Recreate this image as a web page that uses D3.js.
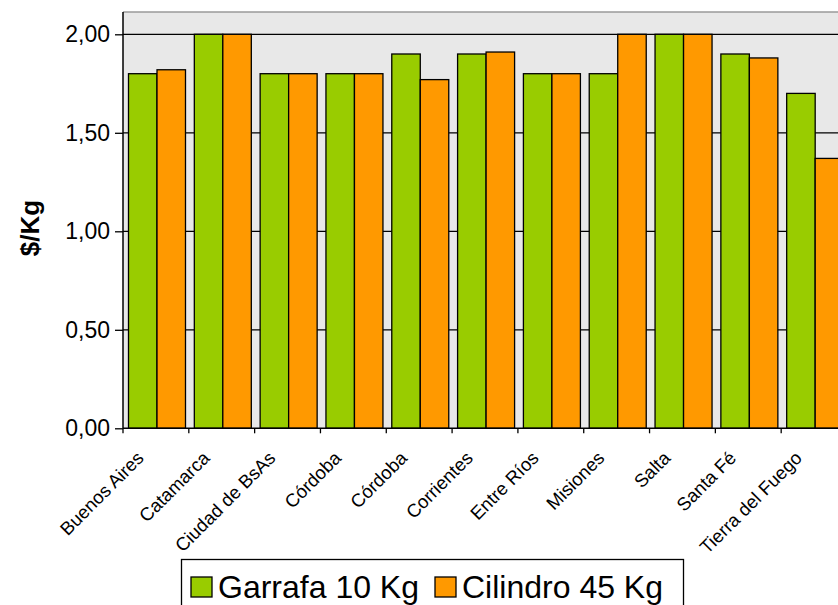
<!DOCTYPE html>
<html>
<head>
<meta charset="utf-8">
<script src="https://cdn.jsdelivr.net/npm/d3@7/dist/d3.min.js"></script>
<style>
  body { margin: 0; background: #fff; }
  text { font-family: "Liberation Sans", Arial, sans-serif; fill: #000; }
</style>
</head>
<body>
<div id="chart"></div>
<script>
// categories (provinces) and series values, $/Kg
var provinces = ["Buenos Aires", "Catamarca", "Ciudad de BsAs", "Córdoba", "Córdoba",
                 "Corrientes", "Entre Ríos", "Misiones", "Salta", "Santa Fé", "Tierra del Fuego"];
var garrafa10 = [1.80, 2.00, 1.80, 1.80, 1.90, 1.90, 1.80, 1.80, 2.00, 1.90, 1.70];
var cilindro45 = [1.82, 2.00, 1.80, 1.80, 1.77, 1.91, 1.80, 2.00, 2.00, 1.88, 1.37];
var seriesNames = ["Garrafa 10 Kg", "Cilindro 45 Kg"];
var seriesColors = ["#99cc00", "#ff9900"];
var yTicks = [0, 0.5, 1, 1.5, 2];

function createBarChart() {
    var width = 838, height = 605;
    var plot = {left: 123, top: 12, right: 847, bottom: 428};

    var svg = d3.select("#chart").append("svg")
        .attr("width", width)
        .attr("height", height);

    // scales
    var x = d3.scaleBand()
        .domain(d3.range(provinces.length))
        .range([plot.left, plot.right]);
    var xInner = d3.scaleBand()
        .domain([0, 1])
        .range([5.5, 5.5 + 57]);
    var y = d3.scaleLinear().domain([0, 2]).range([428.3, 34.3]);

    // plot area background
    svg.append("rect")
        .attr("x", plot.left).attr("y", plot.top)
        .attr("width", plot.right - plot.left)
        .attr("height", plot.bottom - plot.top)
        .style("fill", "#e8e8e8");
    svg.append("line")
        .attr("x1", plot.left).attr("x2", plot.right)
        .attr("y1", plot.top).attr("y2", plot.top)
        .style("stroke", "#9a9a9a").style("stroke-width", 1.5);

    // y axis with gridlines
    var yAxis = d3.axisLeft(y)
        .tickValues(yTicks)
        .tickSize(8)
        .tickPadding(5)
        .tickFormat(function(d) { return d3.format(".2f")(d).replace(".", ","); });
    var gy = svg.append("g")
        .attr("transform", "translate(" + plot.left + ",0)")
        .attr("font-family", null)
        .call(yAxis);
    gy.select(".domain").remove();
    gy.selectAll(".tick line").style("stroke", "#000").style("stroke-width", 1.3);
    gy.selectAll(".tick text")
        .style("font-size", "23px");

    svg.append("g").selectAll("line.grid")
        .data(yTicks.filter(function(d) { return d > 0; }))
        .enter().append("line")
        .attr("x1", plot.left).attr("x2", plot.right)
        .attr("y1", function(d) { return y(d); })
        .attr("y2", function(d) { return y(d); })
        .style("stroke", "#000").style("stroke-width", 1.3);

    // bars
    var data = provinces.map(function(p, i) {
        return [garrafa10[i], cilindro45[i]];
    });
    var groups = svg.append("g").selectAll("g.cat")
        .data(data)
        .enter().append("g")
        .attr("transform", function(d, i) { return "translate(" + x(i) + ",0)"; });
    groups.selectAll("rect")
        .data(function(d) { return d; })
        .enter().append("rect")
        .attr("x", function(d, j) { return xInner(j); })
        .attr("width", xInner.bandwidth())
        .attr("y", function(d) { return y(d); })
        .attr("height", function(d) { return y(0) - y(d); })
        .style("fill", function(d, j) { return seriesColors[j]; })
        .style("stroke", "#000")
        .style("stroke-width", 1.3);

    // axis lines
    svg.append("line")
        .attr("x1", plot.left).attr("x2", plot.left)
        .attr("y1", plot.top).attr("y2", y(0))
        .style("stroke", "#000").style("stroke-width", 1.5);
    svg.append("line")
        .attr("x1", plot.left).attr("x2", plot.right)
        .attr("y1", y(0)).attr("y2", y(0))
        .style("stroke", "#000").style("stroke-width", 1.5);

    // category ticks at band boundaries
    svg.append("g").selectAll("line")
        .data(d3.range(provinces.length + 1))
        .enter().append("line")
        .attr("x1", function(i) { return plot.left + i * x.step(); })
        .attr("x2", function(i) { return plot.left + i * x.step(); })
        .attr("y1", y(0)).attr("y2", y(0) + 5)
        .style("stroke", "#000").style("stroke-width", 1.3);

    // category labels, rotated
    svg.append("g").selectAll("text")
        .data(provinces)
        .enter().append("text")
        .attr("transform", function(d, i) {
            return "translate(" + (x(i) + x.bandwidth() / 2 - 11) + "," + (y(0) + 31) + ") rotate(-45)";
        })
        .style("text-anchor", "end")
        .style("font-size", "18.5px")
        .text(function(d) { return d; });

    // y axis title
    svg.append("text")
        .attr("transform", "translate(39," + 228 + ") rotate(-90)")
        .style("text-anchor", "middle")
        .style("font-size", "26px")
        .style("font-weight", "bold")
        .text("$/Kg");

    // legend
    var legend = svg.append("g");
    legend.append("rect")
        .attr("x", 181.5).attr("y", 559.5)
        .attr("width", 502).attr("height", 60)
        .style("fill", "#fff")
        .style("stroke", "#000").style("stroke-width", 1.3);
    var lx = 191;
    seriesNames.forEach(function(name, j) {
        legend.append("rect")
            .attr("x", lx).attr("y", 577)
            .attr("width", 21).attr("height", 20)
            .style("fill", seriesColors[j])
            .style("stroke", "#000").style("stroke-width", 1.3);
        var t = legend.append("text")
            .attr("x", lx + 27).attr("y", 598)
            .style("font-size", "32px")
            .text(name);
        lx = lx + 27 + t.node().getComputedTextLength() + 16;
    });
}

createBarChart();
</script>
</body>
</html>
